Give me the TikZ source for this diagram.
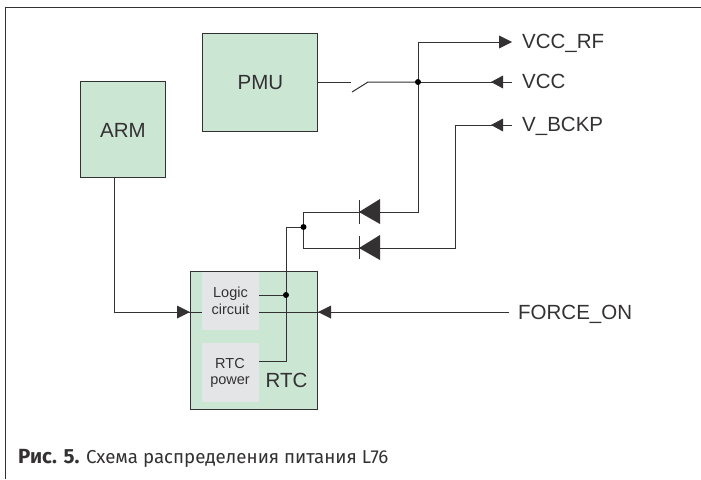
\documentclass[tikz,border=0pt]{standalone}
\usepackage{fontspec}
\setmainfont{Liberation Sans}
\newfontfamily\capfont{Fira Sans}
\definecolor{boxg}{HTML}{CCE6D4}
\definecolor{inner}{HTML}{E4E5E7}
\definecolor{ln}{HTML}{333132}
\tikzset{
 x=1pt,y=-1pt,
 wire/.style={draw=ln,line width=1pt},
 block/.style={draw=ln,line width=1pt,fill=boxg,anchor=north west,inner sep=0pt,outer sep=0pt},
 subblock/.style={fill=inner,anchor=north west,inner sep=0pt,outer sep=0pt},
 lab/.style={text=ln,font=\fontsize{20.5}{24}\selectfont,anchor=base west,inner sep=0pt},
 cen/.style={text=ln,font=\fontsize{20.5}{24}\selectfont,inner sep=0pt,anchor=base},
 small/.style={text=ln,font=\fontsize{14.5}{16.5}\selectfont,align=center,inner sep=0pt},
 dot/.style={circle,fill=black,inner sep=0pt,minimum size=6pt},
 tri/.style={fill=ln,draw=none},
}
\begin{document}
\begin{tikzpicture}
\useasboundingbox (0,0) rectangle (701,479);
\draw[draw=ln,line width=1pt] (5.5,479) -- (5.5,7.5) -- (701,7.5);
% blocks
\node[block,minimum width=115pt,minimum height=98pt] (pmu) at (202,33) {};
\node[cen] at (260.5,89) {PMU};
\node[block,minimum width=85pt,minimum height=96pt] (arm) at (80,81) {};
\node[cen] at (123,137) {ARM};
\node[block,minimum width=127pt,minimum height=138pt] (rtc) at (190,271) {};
\node[subblock,minimum width=56.5pt,minimum height=58pt] (logic) at (202,271.5) {};
\node[small] at (230.5,301) {Logic\\circuit};
\node[subblock,minimum width=56.5pt,minimum height=59pt] (power) at (202,343) {};
\node[small] at (230,373) {RTC\\power};
\node[lab] (rtclab) at (265.5,387) {RTC};
% labels
\node[lab] (vccrf) at (522,48) {VCC\_RF};
\node[lab] (vcc) at (522,88.5) {VCC};
\node[lab] (vb) at (522,131) {V\_BCKP};
\node[lab] (fo) at (518,319) {FORCE\_ON};
% coordinates
\coordinate (j1) at (418,82);
\coordinate (j2) at (303.5,227);
\coordinate (j3) at (286,295);
% switch
\draw[wire] (pmu.east|-0,82) -- (351,82);
\draw[wire] (352,92) -- (368,82) -- (j1);
\draw[wire] (j1) -- (512,82);
\draw[wire] (j1) -- (418,42) -- (500,42);
\draw[wire] (j1) -- (418,212) -- (360,212);
\draw[wire] (512,125) -- (455,125) -- (455,248) -- (360,248);
\draw[wire] (360,212) -- (303.5,212) -- (303.5,248) -- (360,248);
\draw[wire] (j2) -- (286,227) -- (286,361) -- (power.east|-0,361);
\draw[wire] (logic.east|-0,295) -- (j3);
% arm
\draw[wire] (114,177) -- (114,312) -- (logic.west|-0,312);
\draw[wire] (logic.east|-0,312) -- (509,312);
% arrowheads
\fill[tri] (512,42) -- (499,35.5) -- (499,48.5) -- cycle;
\fill[tri] (491,82) -- (503,75.5) -- (503,88.5) -- cycle;
\fill[tri] (491,125) -- (503,118.5) -- (503,131.5) -- cycle;
\fill[tri] (190,312) -- (177,305.5) -- (177,318.5) -- cycle;
\fill[tri] (318,312) -- (331,305.5) -- (331,318.5) -- cycle;
% diodes
\fill[tri] (359,212) -- (380,199) -- (380,224) -- cycle;
\draw[wire] (359,200) -- (359,224);
\fill[tri] (359,248) -- (380,235) -- (380,260) -- cycle;
\draw[wire] (359,236) -- (359,259);
\node[dot] at (j1) {};
\node[dot] at (j2) {};
\node[dot] at (j3) {};
\node[anchor=base west,inner sep=0pt,text=ln,font=\capfont\fontsize{18.7}{20}\selectfont] (cap) at (18,463) {{\fontsize{20.5}{20}\selectfont\textbf{Рис. 5.}} Схема распределения питания L76};
\end{tikzpicture}
\end{document}
